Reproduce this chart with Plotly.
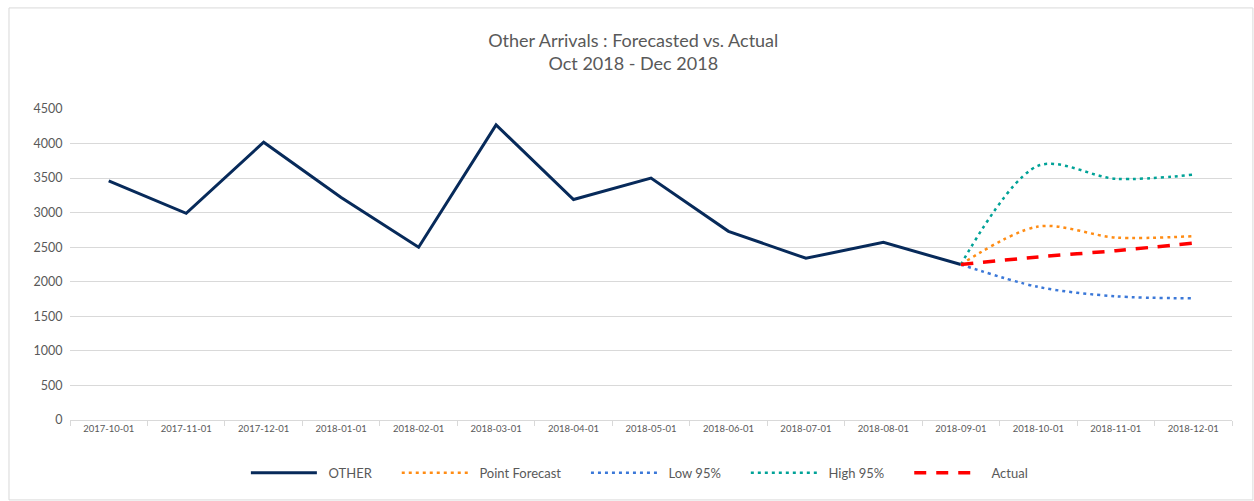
import plotly.graph_objects as go

# Monthly categories
months = ["2017-10-01", "2017-11-01", "2017-12-01", "2018-01-01", "2018-02-01",
          "2018-03-01", "2018-04-01", "2018-05-01", "2018-06-01", "2018-07-01",
          "2018-08-01", "2018-09-01", "2018-10-01", "2018-11-01", "2018-12-01"]

# Historical arrivals (OTHER)
other = [3460, 2990, 4020, 3220, 2500, 4270, 3190, 3500, 2730, 2340, 2570, 2250,
         None, None, None]

# Forecast series, anchored at the last actual point
point_forecast = [None] * 11 + [2250, 2800, 2640, 2660]
low_95 = [None] * 11 + [2250, 1925, 1790, 1760]
high_95 = [None] * 11 + [2250, 3680, 3490, 3550]
actual = [None] * 11 + [2250, 2360, 2450, 2560]

FONT = "Lato, 'Open Sans', sans-serif"
GREY = "#595959"
LEAD = "\u00a0" * 2  # gap between legend symbol and label
PAD = "\u00a0" * 6   # extra room after each legend label

fig = go.Figure()

fig.add_trace(go.Scatter(
    x=months, y=other, mode="lines", name=LEAD + "OTHER" + PAD,
    line=dict(color="#072a5a", width=3),
))
fig.add_trace(go.Scatter(
    x=months, y=point_forecast, mode="lines", name=LEAD + "Point Forecast" + PAD,
    line=dict(color="#ff8c14", width=2.5, dash="3px,4px", shape="spline", smoothing=0.9),
))
fig.add_trace(go.Scatter(
    x=months, y=low_95, mode="lines", name=LEAD + "Low 95%" + PAD,
    line=dict(color="#3b78d8", width=2.5, dash="3px,4px", shape="spline", smoothing=0.9),
))
fig.add_trace(go.Scatter(
    x=months, y=high_95, mode="lines", name=LEAD + "High 95%" + PAD,
    line=dict(color="#00a297", width=2.5, dash="3px,4px", shape="spline", smoothing=0.9),
))
fig.add_trace(go.Scatter(
    x=months, y=actual, mode="lines", name=LEAD + "Actual",
    line=dict(color="#ff0000", width=3.5, dash="12px,10px", shape="spline", smoothing=0.9),
))

fig.update_layout(
    width=1254, height=501,
    margin=dict(l=70, r=22, t=109, b=81),
    paper_bgcolor="white", plot_bgcolor="white",
    font=dict(family=FONT, color=GREY),
    title=dict(
        text="Other Arrivals : Forecasted vs. Actual<br>Oct 2018 - Dec 2018",
        x=0.505, xanchor="center", y=0.906, yanchor="middle",
        font=dict(size=18, color=GREY, family=FONT),
    ),
    showlegend=True,
    legend=dict(
        orientation="h", x=0.490, xanchor="center", y=-0.17, yanchor="middle",
        font=dict(size=13, color=GREY), itemwidth=66, traceorder="normal",
    ),
    hovermode=False,
    shapes=[dict(
        type="rect", xref="paper", yref="paper",
        x0=-0.0525, x1=1.018, y0=-0.257, y1=1.325,
        line=dict(color="#d9d9d9", width=1), layer="below",
    )],
)

fig.update_xaxes(
    type="category", range=[-0.5, len(months) - 0.5], showgrid=False,
    showline=True, linecolor="#d9d9d9", linewidth=1,
    ticks="outside", tickson="boundaries", ticklen=5, tickcolor="#d9d9d9",
    tickfont=dict(size=9.5, color=GREY),
)
fig.update_yaxes(
    range=[0, 4500], dtick=500, showgrid=True, gridcolor="#d9d9d9", gridwidth=1,
    zeroline=False, showline=False, ticks="",
    tickfont=dict(size=12.5, color=GREY), ticksuffix="  ",
)

fig.write_html("out.html", config={"displayModeBar": False},
               post_script="document.body.style.margin='0';")
